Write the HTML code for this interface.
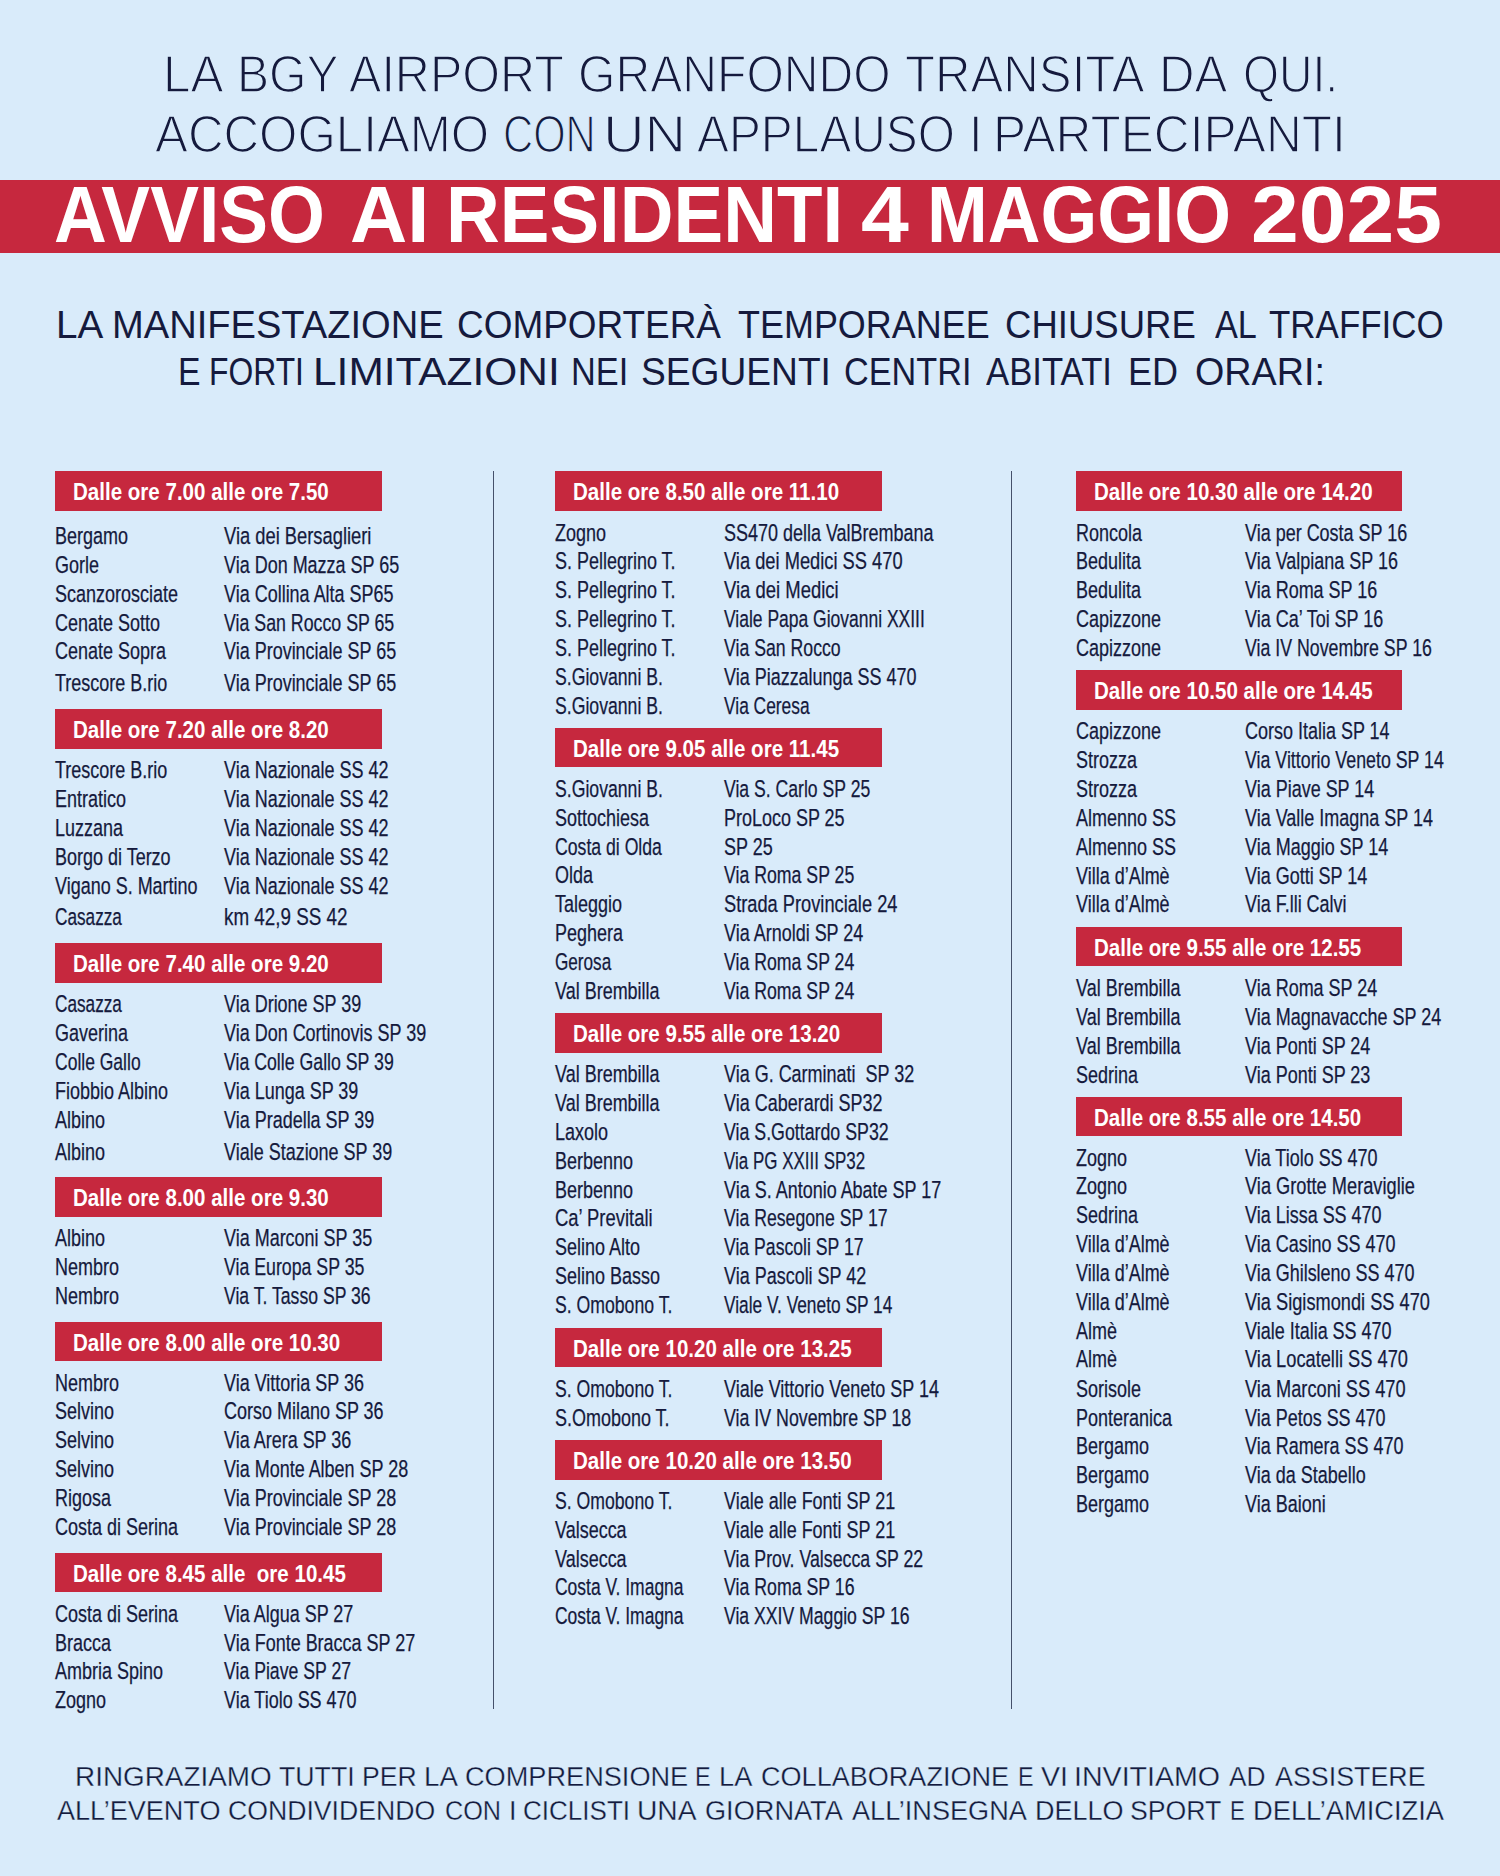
<!DOCTYPE html>
<html lang="it">
<head>
<meta charset="utf-8">
<title>Avviso ai residenti 4 maggio 2025</title>
<style>
html,body{margin:0;padding:0}
body{width:1500px;height:1876px;background:#d9ebfa;position:relative;overflow:hidden;font-family:"Liberation Sans",sans-serif;color:#151a3d}
.band{position:absolute;left:0;top:179.5px;width:1500px;height:73.5px;background:#c6283e}
.big{position:absolute;white-space:pre;transform-origin:0 0;margin:0;font-weight:400}
.wf{width:1500px;height:1em}
.wf span{position:absolute;top:0;transform-origin:0 0;white-space:pre}
.lt2{-webkit-text-stroke:0.3px #d9ebfa}
.lt{-webkit-text-stroke:1.5px #d9ebfa}
.vl{position:absolute;top:471px;height:1237.5px;width:1.2px;background:#45506a}
.bx{position:absolute;height:39.5px;background:#c6283e;margin:0}
.bx span{position:absolute;left:0;top:0;white-space:pre;color:#fff;font-weight:700;font-size:24.7px;line-height:42.4px;transform:scaleX(0.832);transform-origin:0 50%}
.r{position:absolute;height:29px;line-height:29px;font-size:24.3px;white-space:pre;margin:0}
.r span{position:absolute;top:0;left:0;transform:scaleX(0.74);transform-origin:0 50%;-webkit-text-stroke:0.25px #151a3d}

</style>
</head>
<body>
<div class="band"></div>
<p class="big wf lt" style="left:0;top:42.60px;font-size:52.18px;line-height:62.62px;font-weight:400;color:#151a3d"><span style="left:162.53px;transform:scaleX(0.9478)">LA</span> <span style="left:236.64px;transform:scaleX(0.9225)">BGY</span> <span style="left:348.99px;transform:scaleX(0.9306)">AIRPORT</span> <span style="left:578.36px;transform:scaleX(0.9222)">GRANFONDO</span> <span style="left:904.88px;transform:scaleX(0.9424)">TRANSITA</span> <span style="left:1158.55px;transform:scaleX(0.9433)">DA</span> <span style="left:1243.08px;transform:scaleX(0.8873)">QUI.</span></p>
<p class="big wf lt" style="left:0;top:102.80px;font-size:52.18px;line-height:62.62px;font-weight:400;color:#151a3d"><span style="left:154.99px;transform:scaleX(0.9449)">ACCOGLIAMO</span> <span style="left:502.65px;transform:scaleX(0.8002)">CON</span> <span style="left:602.89px;transform:scaleX(1.1031)">UN</span> <span style="left:696.99px;transform:scaleX(0.9173)">APPLAUSO</span> <span style="left:968.58px;transform:scaleX(0.9278)">I</span> <span style="left:992.51px;transform:scaleX(0.9509)">PARTECIPANTI</span></p>
<h1 class="big wf " style="left:0;top:167.65px;font-size:79.07px;line-height:94.88px;font-weight:700;color:#fff"><span style="left:54.01px;transform:scaleX(0.9247)">AVVISO</span> <span style="left:350.44px;transform:scaleX(1.0015)">AI</span> <span style="left:445.81px;transform:scaleX(0.9418)">RESIDENTI</span> <span style="left:860.67px;transform:scaleX(1.0875)">4</span> <span style="left:927.11px;transform:scaleX(0.9233)">MAGGIO</span> <span style="left:1251.03px;transform:scaleX(1.0861)">2025</span></h1>
<p class="big wf " style="left:0;top:301.15px;font-size:39.24px;line-height:47.09px;font-weight:400;color:#151a3d"><span style="left:55.81px;transform:scaleX(0.9845)">LA</span> <span style="left:112.05px;transform:scaleX(0.9712)">MANIFESTAZIONE</span> <span style="left:457.38px;transform:scaleX(0.9411)">COMPORTERÀ</span> <span style="left:737.90px;transform:scaleX(0.9162)">TEMPORANEE</span> <span style="left:1004.81px;transform:scaleX(0.9309)">CHIUSURE</span> <span style="left:1214.54px;transform:scaleX(0.8720)">AL</span> <span style="left:1269.22px;transform:scaleX(0.8905)">TRAFFICO</span></p>
<p class="big wf " style="left:0;top:348.25px;font-size:39.24px;line-height:47.09px;font-weight:400;color:#151a3d"><span style="left:177.61px;transform:scaleX(0.8618)">E</span> <span style="left:209.37px;transform:scaleX(0.8116)">FORTI</span> <span style="left:312.50px;transform:scaleX(1.0814)">LIMITAZIONI</span> <span style="left:570.67px;transform:scaleX(0.8749)">NEI</span> <span style="left:641.45px;transform:scaleX(0.9469)">SEGUENTI</span> <span style="left:843.52px;transform:scaleX(0.8734)">CENTRI</span> <span style="left:986.43px;transform:scaleX(0.8848)">ABITATI</span> <span style="left:1128.32px;transform:scaleX(0.9188)">ED</span> <span style="left:1194.89px;transform:scaleX(0.9609)">ORARI:</span></p>
<p class="big wf lt2" style="left:0;top:1759.86px;font-size:27.62px;line-height:33.14px;font-weight:400;color:#151a3d"><span style="left:75.09px;transform:scaleX(1.0100)">RINGRAZIAMO</span> <span style="left:279.39px;transform:scaleX(0.9669)">TUTTI</span> <span style="left:361.80px;transform:scaleX(0.9636)">PER</span> <span style="left:423.61px;transform:scaleX(1.0026)">LA</span> <span style="left:464.57px;transform:scaleX(0.9832)">COMPRENSIONE</span> <span style="left:695.36px;transform:scaleX(0.8493)">E</span> <span style="left:719.05px;transform:scaleX(0.9866)">LA</span> <span style="left:760.67px;transform:scaleX(0.9799)">COLLABORAZIONE</span> <span style="left:1017.68px;transform:scaleX(0.8426)">E</span> <span style="left:1041.34px;transform:scaleX(1.0319)">VI</span> <span style="left:1074.05px;transform:scaleX(1.0350)">INVITIAMO</span> <span style="left:1228.64px;transform:scaleX(0.9507)">AD</span> <span style="left:1274.94px;transform:scaleX(0.9717)">ASSISTERE</span></p>
<p class="big wf lt2" style="left:0;top:1793.86px;font-size:27.62px;line-height:33.14px;font-weight:400;color:#151a3d"><span style="left:56.73px;transform:scaleX(0.9800)">ALL’EVENTO</span> <span style="left:228.20px;transform:scaleX(0.9650)">CONDIVIDENDO</span> <span style="left:445.47px;transform:scaleX(0.9145)">CON</span> <span style="left:509.04px;transform:scaleX(0.9799)">I</span> <span style="left:523.43px;transform:scaleX(0.9434)">CICLISTI</span> <span style="left:636.61px;transform:scaleX(1.0214)">UNA</span> <span style="left:705.48px;transform:scaleX(0.9836)">GIORNATA</span> <span style="left:852.03px;transform:scaleX(0.9821)">ALL’INSEGNA</span> <span style="left:1035.17px;transform:scaleX(0.9776)">DELLO</span> <span style="left:1130.43px;transform:scaleX(0.9659)">SPORT</span> <span style="left:1230.17px;transform:scaleX(0.8025)">E</span> <span style="left:1252.55px;transform:scaleX(0.9876)">DELL’AMICIZIA</span></p>
<div class="vl" style="left:492.8px"></div>
<div class="vl" style="left:1011.2px"></div>
<section>
<h2 class="bx" style="left:55px;top:471.0px;width:327px"><span style="left:18.4px">Dalle ore 7.00 alle ore 7.50</span></h2>
<div class="r" style="left:55px;top:521.08px"><span>Bergamo</span> <span style="left:169.0px;transform:scaleX(0.7545)">Via dei Bersaglieri</span></div>
<div class="r" style="left:55px;top:550.38px"><span>Gorle</span> <span style="left:169.0px">Via Don Mazza SP 65</span></div>
<div class="r" style="left:55px;top:578.78px"><span>Scanzorosciate</span> <span style="left:169.0px">Via Collina Alta SP65</span></div>
<div class="r" style="left:55px;top:608.08px"><span>Cenate Sotto</span> <span style="left:169.0px;transform:scaleX(0.7313)">Via San Rocco SP 65</span></div>
<div class="r" style="left:55px;top:636.38px"><span>Cenate Sopra</span> <span style="left:169.0px">Via Provinciale SP 65</span></div>
<div class="r" style="left:55px;top:668.08px"><span>Trescore B.rio</span> <span style="left:169.0px">Via Provinciale SP 65</span></div>
<h2 class="bx" style="left:55px;top:709.3px;width:327px"><span style="left:18.4px">Dalle ore 7.20 alle ore 8.20</span></h2>
<div class="r" style="left:55px;top:755.38px"><span>Trescore B.rio</span> <span style="left:169.0px">Via Nazionale SS 42</span></div>
<div class="r" style="left:55px;top:784.08px"><span>Entratico</span> <span style="left:169.0px">Via Nazionale SS 42</span></div>
<div class="r" style="left:55px;top:813.08px"><span>Luzzana</span> <span style="left:169.0px">Via Nazionale SS 42</span></div>
<div class="r" style="left:55px;top:841.78px"><span>Borgo di Terzo</span> <span style="left:169.0px">Via Nazionale SS 42</span></div>
<div class="r" style="left:55px;top:870.78px"><span>Vigano S. Martino</span> <span style="left:169.0px">Via Nazionale SS 42</span></div>
<div class="r" style="left:55px;top:902.08px"><span style="transform:scaleX(0.7078)">Casazza</span> <span style="left:169.0px;transform:scaleX(0.7751)">km 42,9 SS 42</span></div>
<h2 class="bx" style="left:55px;top:943.3px;width:327px"><span style="left:18.4px">Dalle ore 7.40 alle ore 9.20</span></h2>
<div class="r" style="left:55px;top:988.78px"><span style="transform:scaleX(0.7078)">Casazza</span> <span style="left:169.0px">Via Drione SP 39</span></div>
<div class="r" style="left:55px;top:1017.78px"><span>Gaverina</span> <span style="left:169.0px">Via Don Cortinovis SP 39</span></div>
<div class="r" style="left:55px;top:1047.08px"><span style="transform:scaleX(0.7204)">Colle Gallo</span> <span style="left:169.0px;transform:scaleX(0.7292)">Via Colle Gallo SP 39</span></div>
<div class="r" style="left:55px;top:1076.08px"><span>Fiobbio Albino</span> <span style="left:169.0px">Via Lunga SP 39</span></div>
<div class="r" style="left:55px;top:1104.78px"><span>Albino</span> <span style="left:169.0px">Via Pradella SP 39</span></div>
<div class="r" style="left:55px;top:1136.78px"><span>Albino</span> <span style="left:169.0px">Viale Stazione SP 39</span></div>
<h2 class="bx" style="left:55px;top:1177.3px;width:327px"><span style="left:18.4px">Dalle ore 8.00 alle ore 9.30</span></h2>
<div class="r" style="left:55px;top:1223.08px"><span>Albino</span> <span style="left:169.0px">Via Marconi SP 35</span></div>
<div class="r" style="left:55px;top:1252.08px"><span>Nembro</span> <span style="left:169.0px;transform:scaleX(0.7300)">Via Europa SP 35</span></div>
<div class="r" style="left:55px;top:1281.08px"><span>Nembro</span> <span style="left:169.0px;transform:scaleX(0.7250)">Via T. Tasso SP 36</span></div>
<h2 class="bx" style="left:55px;top:1321.7px;width:327px"><span style="left:18.4px">Dalle ore 8.00 alle ore 10.30</span></h2>
<div class="r" style="left:55px;top:1367.78px"><span>Nembro</span> <span style="left:169.0px">Via Vittoria SP 36</span></div>
<div class="r" style="left:55px;top:1396.38px"><span>Selvino</span> <span style="left:169.0px">Corso Milano SP 36</span></div>
<div class="r" style="left:55px;top:1425.38px"><span>Selvino</span> <span style="left:169.0px">Via Arera SP 36</span></div>
<div class="r" style="left:55px;top:1454.08px"><span>Selvino</span> <span style="left:169.0px">Via Monte Alben SP 28</span></div>
<div class="r" style="left:55px;top:1483.08px"><span>Rigosa</span> <span style="left:169.0px">Via Provinciale SP 28</span></div>
<div class="r" style="left:55px;top:1512.08px"><span>Costa di Serina</span> <span style="left:169.0px">Via Provinciale SP 28</span></div>
<h2 class="bx" style="left:55px;top:1552.7px;width:327px"><span style="left:18.4px">Dalle ore 8.45 alle  ore 10.45</span></h2>
<div class="r" style="left:55px;top:1598.78px"><span>Costa di Serina</span> <span style="left:169.0px">Via Algua SP 27</span></div>
<div class="r" style="left:55px;top:1627.78px"><span>Bracca</span> <span style="left:169.0px">Via Fonte Bracca SP 27</span></div>
<div class="r" style="left:55px;top:1656.38px"><span>Ambria Spino</span> <span style="left:169.0px;transform:scaleX(0.7273)">Via Piave SP 27</span></div>
<div class="r" style="left:55px;top:1685.38px"><span>Zogno</span> <span style="left:169.0px">Via Tiolo SS 470</span></div>
</section>
<section>
<h2 class="bx" style="left:555px;top:471.0px;width:326.7px"><span style="left:18.4px">Dalle ore 8.50 alle ore 11.10</span></h2>
<div class="r" style="left:555px;top:517.78px"><span>Zogno</span> <span style="left:169.0px">SS470 della ValBrembana</span></div>
<div class="r" style="left:555px;top:546.38px"><span>S. Pellegrino T.</span> <span style="left:169.0px;transform:scaleX(0.7528)">Via dei Medici SS 470</span></div>
<div class="r" style="left:555px;top:575.38px"><span>S. Pellegrino T.</span> <span style="left:169.0px;transform:scaleX(0.7602)">Via dei Medici</span></div>
<div class="r" style="left:555px;top:604.08px"><span>S. Pellegrino T.</span> <span style="left:169.0px;transform:scaleX(0.7193)">Viale Papa Giovanni XXIII</span></div>
<div class="r" style="left:555px;top:633.08px"><span>S. Pellegrino T.</span> <span style="left:169.0px;transform:scaleX(0.7280)">Via San Rocco</span></div>
<div class="r" style="left:555px;top:662.08px"><span style="transform:scaleX(0.7263)">S.Giovanni B.</span> <span style="left:169.0px">Via Piazzalunga SS 470</span></div>
<div class="r" style="left:555px;top:690.78px"><span style="transform:scaleX(0.7263)">S.Giovanni B.</span> <span style="left:169.0px;transform:scaleX(0.7148)">Via Ceresa</span></div>
<h2 class="bx" style="left:555px;top:727.7px;width:326.7px"><span style="left:18.4px">Dalle ore 9.05 alle ore 11.45</span></h2>
<div class="r" style="left:555px;top:774.08px"><span style="transform:scaleX(0.7263)">S.Giovanni B.</span> <span style="left:169.0px;transform:scaleX(0.7250)">Via S. Carlo SP 25</span></div>
<div class="r" style="left:555px;top:803.08px"><span>Sottochiesa</span> <span style="left:169.0px">ProLoco SP 25</span></div>
<div class="r" style="left:555px;top:831.78px"><span style="transform:scaleX(0.7263)">Costa di Olda</span> <span style="left:169.0px">SP 25</span></div>
<div class="r" style="left:555px;top:860.38px"><span>Olda</span> <span style="left:169.0px;transform:scaleX(0.7287)">Via Roma SP 25</span></div>
<div class="r" style="left:555px;top:889.38px"><span>Taleggio</span> <span style="left:169.0px;transform:scaleX(0.7509)">Strada Provinciale 24</span></div>
<div class="r" style="left:555px;top:918.38px"><span>Peghera</span> <span style="left:169.0px">Via Arnoldi SP 24</span></div>
<div class="r" style="left:555px;top:947.08px"><span style="transform:scaleX(0.7056)">Gerosa</span> <span style="left:169.0px;transform:scaleX(0.7287)">Via Roma SP 24</span></div>
<div class="r" style="left:555px;top:976.08px"><span>Val Brembilla</span> <span style="left:169.0px;transform:scaleX(0.7287)">Via Roma SP 24</span></div>
<h2 class="bx" style="left:555px;top:1013.3px;width:326.7px"><span style="left:18.4px">Dalle ore 9.55 alle ore 13.20</span></h2>
<div class="r" style="left:555px;top:1059.08px"><span>Val Brembilla</span> <span style="left:169.0px">Via G. Carminati  SP 32</span></div>
<div class="r" style="left:555px;top:1088.08px"><span>Val Brembilla</span> <span style="left:169.0px">Via Caberardi SP32</span></div>
<div class="r" style="left:555px;top:1116.78px"><span>Laxolo</span> <span style="left:169.0px;transform:scaleX(0.7315)">Via S.Gottardo SP32</span></div>
<div class="r" style="left:555px;top:1145.78px"><span>Berbenno</span> <span style="left:169.0px;transform:scaleX(0.6985)">Via PG XXIII SP32</span></div>
<div class="r" style="left:555px;top:1174.78px"><span>Berbenno</span> <span style="left:169.0px">Via S. Antonio Abate SP 17</span></div>
<div class="r" style="left:555px;top:1203.38px"><span style="transform:scaleX(0.7583)">Ca’ Previtali</span> <span style="left:169.0px;transform:scaleX(0.7279)">Via Resegone SP 17</span></div>
<div class="r" style="left:555px;top:1232.38px"><span>Selino Alto</span> <span style="left:169.0px;transform:scaleX(0.7258)">Via Pascoli SP 17</span></div>
<div class="r" style="left:555px;top:1261.08px"><span>Selino Basso</span> <span style="left:169.0px">Via Pascoli SP 42</span></div>
<div class="r" style="left:555px;top:1290.08px"><span style="transform:scaleX(0.7261)">S. Omobono T.</span> <span style="left:169.0px;transform:scaleX(0.7132)">Viale V. Veneto SP 14</span></div>
<h2 class="bx" style="left:555px;top:1327.8px;width:326.7px"><span style="left:18.4px">Dalle ore 10.20 alle ore 13.25</span></h2>
<div class="r" style="left:555px;top:1373.58px"><span style="transform:scaleX(0.7261)">S. Omobono T.</span> <span style="left:169.0px">Viale Vittorio Veneto SP 14</span></div>
<div class="r" style="left:555px;top:1402.58px"><span>S.Omobono T.</span> <span style="left:169.0px;transform:scaleX(0.7321)">Via IV Novembre SP 18</span></div>
<h2 class="bx" style="left:555px;top:1440.0px;width:326.7px"><span style="left:18.4px">Dalle ore 10.20 alle ore 13.50</span></h2>
<div class="r" style="left:555px;top:1486.08px"><span style="transform:scaleX(0.7261)">S. Omobono T.</span> <span style="left:169.0px">Viale alle Fonti SP 21</span></div>
<div class="r" style="left:555px;top:1514.78px"><span>Valsecca</span> <span style="left:169.0px">Viale alle Fonti SP 21</span></div>
<div class="r" style="left:555px;top:1543.78px"><span>Valsecca</span> <span style="left:169.0px;transform:scaleX(0.7315)">Via Prov. Valsecca SP 22</span></div>
<div class="r" style="left:555px;top:1572.38px"><span style="transform:scaleX(0.7191)">Costa V. Imagna</span> <span style="left:169.0px;transform:scaleX(0.7304)">Via Roma SP 16</span></div>
<div class="r" style="left:555px;top:1601.38px"><span style="transform:scaleX(0.7191)">Costa V. Imagna</span> <span style="left:169.0px;transform:scaleX(0.7254)">Via XXIV Maggio SP 16</span></div>
</section>
<section>
<h2 class="bx" style="left:1075.7px;top:471.0px;width:326.3px"><span style="left:18.7px">Dalle ore 10.30 alle ore 14.20</span></h2>
<div class="r" style="left:1075.7px;top:517.78px"><span>Roncola</span> <span style="left:169.3px">Via per Costa SP 16</span></div>
<div class="r" style="left:1075.7px;top:546.38px"><span>Bedulita</span> <span style="left:169.3px">Via Valpiana SP 16</span></div>
<div class="r" style="left:1075.7px;top:575.38px"><span>Bedulita</span> <span style="left:169.3px">Via Roma SP 16</span></div>
<div class="r" style="left:1075.7px;top:604.08px"><span>Capizzone</span> <span style="left:169.3px">Via Ca’ Toi SP 16</span></div>
<div class="r" style="left:1075.7px;top:633.08px"><span>Capizzone</span> <span style="left:169.3px;transform:scaleX(0.7309)">Via IV Novembre SP 16</span></div>
<h2 class="bx" style="left:1075.7px;top:670.0px;width:326.3px"><span style="left:18.7px">Dalle ore 10.50 alle ore 14.45</span></h2>
<div class="r" style="left:1075.7px;top:716.38px"><span>Capizzone</span> <span style="left:169.3px">Corso Italia SP 14</span></div>
<div class="r" style="left:1075.7px;top:745.38px"><span>Strozza</span> <span style="left:169.3px;transform:scaleX(0.7326)">Via Vittorio Veneto SP 14</span></div>
<div class="r" style="left:1075.7px;top:774.08px"><span>Strozza</span> <span style="left:169.3px">Via Piave SP 14</span></div>
<div class="r" style="left:1075.7px;top:803.08px"><span>Almenno SS</span> <span style="left:169.3px">Via Valle Imagna SP 14</span></div>
<div class="r" style="left:1075.7px;top:831.78px"><span>Almenno SS</span> <span style="left:169.3px">Via Maggio SP 14</span></div>
<div class="r" style="left:1075.7px;top:860.78px"><span>Villa d’Almè</span> <span style="left:169.3px">Via Gotti SP 14</span></div>
<div class="r" style="left:1075.7px;top:889.38px"><span>Villa d’Almè</span> <span style="left:169.3px">Via F.lli Calvi</span></div>
<h2 class="bx" style="left:1075.7px;top:926.7px;width:326.3px"><span style="left:18.7px">Dalle ore 9.55 alle ore 12.55</span></h2>
<div class="r" style="left:1075.7px;top:973.08px"><span>Val Brembilla</span> <span style="left:169.3px">Via Roma SP 24</span></div>
<div class="r" style="left:1075.7px;top:1002.08px"><span>Val Brembilla</span> <span style="left:169.3px">Via Magnavacche SP 24</span></div>
<div class="r" style="left:1075.7px;top:1030.78px"><span>Val Brembilla</span> <span style="left:169.3px">Via Ponti SP 24</span></div>
<div class="r" style="left:1075.7px;top:1059.78px"><span>Sedrina</span> <span style="left:169.3px">Via Ponti SP 23</span></div>
<h2 class="bx" style="left:1075.7px;top:1096.7px;width:326.3px"><span style="left:18.7px">Dalle ore 8.55 alle ore 14.50</span></h2>
<div class="r" style="left:1075.7px;top:1142.58px"><span>Zogno</span> <span style="left:169.3px">Via Tiolo SS 470</span></div>
<div class="r" style="left:1075.7px;top:1171.38px"><span>Zogno</span> <span style="left:169.3px;transform:scaleX(0.7503)">Via Grotte Meraviglie</span></div>
<div class="r" style="left:1075.7px;top:1200.38px"><span>Sedrina</span> <span style="left:169.3px">Via Lissa SS 470</span></div>
<div class="r" style="left:1075.7px;top:1229.08px"><span>Villa d’Almè</span> <span style="left:169.3px">Via Casino SS 470</span></div>
<div class="r" style="left:1075.7px;top:1258.08px"><span>Villa d’Almè</span> <span style="left:169.3px">Via Ghilsleno SS 470</span></div>
<div class="r" style="left:1075.7px;top:1286.78px"><span>Villa d’Almè</span> <span style="left:169.3px;transform:scaleX(0.7494)">Via Sigismondi SS 470</span></div>
<div class="r" style="left:1075.7px;top:1315.78px"><span>Almè</span> <span style="left:169.3px">Viale Italia SS 470</span></div>
<div class="r" style="left:1075.7px;top:1344.38px"><span>Almè</span> <span style="left:169.3px;transform:scaleX(0.7507)">Via Locatelli SS 470</span></div>
<div class="r" style="left:1075.7px;top:1373.58px"><span>Sorisole</span> <span style="left:169.3px;transform:scaleX(0.7494)">Via Marconi SS 470</span></div>
<div class="r" style="left:1075.7px;top:1402.58px"><span>Ponteranica</span> <span style="left:169.3px">Via Petos SS 470</span></div>
<div class="r" style="left:1075.7px;top:1431.38px"><span>Bergamo</span> <span style="left:169.3px">Via Ramera SS 470</span></div>
<div class="r" style="left:1075.7px;top:1460.38px"><span>Bergamo</span> <span style="left:169.3px">Via da Stabello</span></div>
<div class="r" style="left:1075.7px;top:1489.08px"><span>Bergamo</span> <span style="left:169.3px">Via Baioni</span></div>
</section>
</body>
</html>
